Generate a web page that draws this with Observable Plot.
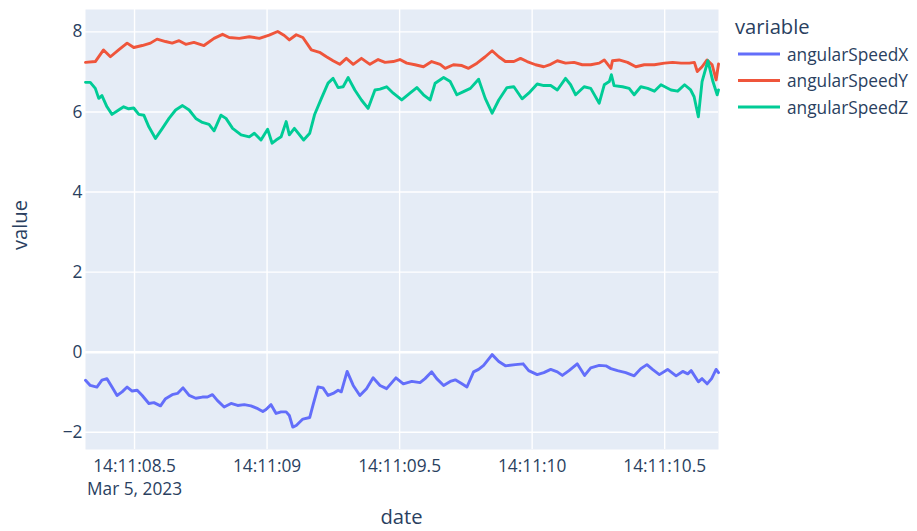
<!DOCTYPE html>
<html>
<head>
<meta charset="utf-8">
<script src="https://cdn.jsdelivr.net/npm/d3@7"></script>
<script src="https://cdn.jsdelivr.net/npm/@observablehq/plot@0.6"></script>
<style>
  html, body { margin: 0; padding: 0; background: white; }
  #chart { width: 917px; height: 531px; position: relative; }
</style>
</head>
<body>
<div id="chart"></div>
<script>
// ---- data (seconds after 14:11:00, Mar 5, 2023) ----
const seriesNames = ["angularSpeedX", "angularSpeedY", "angularSpeedZ"];
const seriesColors = ["#636efa", "#EF553B", "#00cc96"];

const timesX = [8.315,8.333,8.358,8.377,8.396,8.415,8.434,8.453,8.472,8.491,8.510,8.529,8.554,8.573,8.598,8.617,8.642,8.662,8.683,8.706,8.731,8.756,8.775,8.794,8.813,8.838,8.864,8.889,8.914,8.939,8.965,8.984,8.996,9.015,9.034,9.053,9.072,9.084,9.097,9.110,9.135,9.161,9.173,9.192,9.211,9.230,9.249,9.268,9.280,9.302,9.325,9.350,9.375,9.400,9.426,9.451,9.486,9.514,9.546,9.577,9.596,9.621,9.640,9.666,9.691,9.710,9.735,9.754,9.779,9.798,9.817,9.849,9.874,9.899,9.937,9.966,9.987,10.019,10.044,10.070,10.095,10.114,10.139,10.170,10.198,10.221,10.253,10.278,10.297,10.322,10.353,10.385,10.410,10.433,10.454,10.480,10.511,10.543,10.568,10.587,10.600,10.627,10.641,10.660,10.677,10.694,10.703];
const valuesX = [-0.70,-0.83,-0.87,-0.70,-0.66,-0.87,-1.08,-0.99,-0.87,-0.97,-0.95,-1.08,-1.28,-1.26,-1.34,-1.16,-1.06,-1.03,-0.89,-1.08,-1.15,-1.12,-1.12,-1.06,-1.21,-1.37,-1.28,-1.33,-1.31,-1.34,-1.41,-1.48,-1.43,-1.31,-1.53,-1.49,-1.49,-1.58,-1.87,-1.83,-1.67,-1.63,-1.33,-0.87,-0.89,-1.08,-1.03,-0.95,-0.99,-0.48,-0.83,-1.08,-0.91,-0.64,-0.83,-0.91,-0.64,-0.79,-0.73,-0.76,-0.66,-0.49,-0.66,-0.83,-0.73,-0.69,-0.79,-0.87,-0.49,-0.43,-0.33,-0.06,-0.23,-0.34,-0.31,-0.29,-0.46,-0.56,-0.51,-0.43,-0.49,-0.58,-0.46,-0.29,-0.58,-0.39,-0.33,-0.34,-0.41,-0.46,-0.51,-0.59,-0.41,-0.31,-0.43,-0.56,-0.43,-0.59,-0.48,-0.54,-0.46,-0.74,-0.66,-0.79,-0.66,-0.43,-0.51];

const timesY = [8.315,8.352,8.383,8.409,8.440,8.472,8.497,8.529,8.560,8.585,8.617,8.642,8.668,8.693,8.724,8.762,8.800,8.832,8.857,8.895,8.933,8.971,9.008,9.040,9.065,9.084,9.110,9.135,9.167,9.198,9.224,9.249,9.274,9.299,9.325,9.356,9.388,9.419,9.445,9.476,9.501,9.527,9.558,9.590,9.621,9.653,9.672,9.703,9.735,9.760,9.792,9.823,9.849,9.874,9.899,9.931,9.956,9.981,10.013,10.044,10.070,10.095,10.126,10.158,10.189,10.221,10.253,10.272,10.297,10.303,10.328,10.360,10.391,10.423,10.461,10.499,10.530,10.562,10.593,10.612,10.623,10.641,10.660,10.679,10.694,10.703];
const valuesY = [7.24,7.26,7.55,7.38,7.55,7.72,7.61,7.66,7.72,7.82,7.76,7.72,7.78,7.69,7.74,7.66,7.84,7.94,7.86,7.84,7.88,7.84,7.92,8.01,7.91,7.80,7.93,7.86,7.55,7.49,7.38,7.28,7.19,7.34,7.19,7.34,7.19,7.31,7.24,7.26,7.31,7.22,7.18,7.13,7.26,7.19,7.09,7.18,7.16,7.09,7.22,7.38,7.53,7.38,7.26,7.26,7.34,7.26,7.18,7.13,7.19,7.28,7.22,7.24,7.18,7.18,7.22,7.30,7.09,7.28,7.30,7.24,7.13,7.18,7.18,7.22,7.24,7.22,7.22,7.24,7.01,7.13,7.30,7.18,6.80,7.20];

const timesZ = [8.315,8.333,8.352,8.365,8.377,8.396,8.415,8.440,8.459,8.478,8.497,8.516,8.535,8.554,8.579,8.605,8.630,8.655,8.681,8.706,8.731,8.756,8.781,8.800,8.826,8.845,8.870,8.902,8.933,8.952,8.977,9.002,9.019,9.034,9.053,9.072,9.084,9.103,9.138,9.161,9.179,9.205,9.230,9.249,9.268,9.287,9.306,9.331,9.356,9.381,9.407,9.426,9.451,9.476,9.508,9.539,9.565,9.590,9.615,9.634,9.666,9.691,9.716,9.741,9.767,9.798,9.823,9.849,9.874,9.905,9.931,9.962,9.987,10.019,10.044,10.070,10.095,10.126,10.145,10.164,10.196,10.221,10.253,10.272,10.291,10.299,10.309,10.341,10.366,10.385,10.410,10.436,10.461,10.486,10.524,10.549,10.575,10.598,10.611,10.627,10.641,10.663,10.682,10.698,10.703];
const valuesZ = [6.74,6.74,6.59,6.34,6.41,6.13,5.94,6.05,6.13,6.08,6.10,5.94,5.92,5.63,5.34,5.59,5.84,6.05,6.16,6.05,5.84,5.74,5.69,5.53,5.92,5.84,5.59,5.43,5.38,5.47,5.30,5.57,5.22,5.30,5.38,5.76,5.43,5.59,5.30,5.47,5.93,6.34,6.72,6.84,6.61,6.63,6.86,6.55,6.30,6.09,6.55,6.57,6.63,6.47,6.30,6.47,6.61,6.43,6.30,6.72,6.86,6.76,6.43,6.51,6.59,6.82,6.34,5.97,6.30,6.61,6.63,6.33,6.47,6.70,6.66,6.66,6.55,6.84,6.68,6.43,6.63,6.59,6.22,6.68,6.76,6.93,6.66,6.63,6.59,6.43,6.63,6.59,6.52,6.68,6.55,6.52,6.68,6.55,6.38,5.88,6.76,7.28,6.76,6.43,6.55];

const yTicks = [-2, 0, 2, 4, 6, 8];
const xTickSeconds = [8.5, 9, 9.5, 10, 10.5];
const xTickLabels = ["14:11:08.5\nMar 5, 2023", "14:11:09", "14:11:09.5", "14:11:10", "14:11:10.5"];
const xTitle = "date";
const yTitle = "value";
const legendTitle = "variable";

// ---- build table ----
const base = Date.UTC(2023, 2, 5, 14, 11, 0);
const toDate = s => new Date(base + s * 1000);
const rows = [];
[[timesX, valuesX], [timesY, valuesY], [timesZ, valuesZ]].forEach(([ts, vs], k) => {
  ts.forEach((t, i) => rows.push({date: toDate(t), value: vs[i], variable: seriesNames[k]}));
});
const xTickDates = xTickSeconds.map(toDate);

const fontFamily = "'Open Sans', sans-serif";
const textColor = "#2a3f5f";
const W = 917, H = 531, mL = 85, mR = 199, mT = 9, mB = 82;

const plot = Plot.plot({
  width: W,
  height: H,
  marginLeft: mL,
  marginRight: mR,
  marginTop: mT,
  marginBottom: mB,
  style: {fontFamily, fontSize: "17.3px", color: textColor, background: "white", overflow: "visible"},
  x: {type: "utc", domain: d3.extent(rows, d => d.date)},
  y: {domain: [-2.43, 8.56]},
  color: {domain: seriesNames, range: seriesColors},
  marks: [
    Plot.frame({fill: "#E5ECF6", stroke: null}),
    Plot.gridY(yTicks, {stroke: "white", strokeOpacity: 1, strokeWidth: 1.4}),
    Plot.gridX(xTickDates, {stroke: "white", strokeOpacity: 1, strokeWidth: 1.4}),
    Plot.ruleY([0], {stroke: "white", strokeWidth: 2.6}),
    Plot.line(rows, {x: "date", y: "value", z: "variable", stroke: "variable", strokeWidth: 2.9, strokeLinejoin: "round"}),
    Plot.axisY(yTicks, {tickSize: 0, tickPadding: 3, label: null, fontSize: 17.3}),
    Plot.axisX(xTickDates, {tickSize: 0, tickPadding: 6, label: null, fontSize: 17.3, lineHeight: 1.33,
      tickFormat: (d, i) => xTickLabels[i]})
  ]
});

document.getElementById("chart").appendChild(plot);

// ---- axis titles and legend ----
const svg = d3.select(plot);
const extra = svg.append("g").attr("font-family", fontFamily).attr("fill", textColor);
extra.append("text")
  .attr("text-anchor", "middle")
  .attr("transform", `translate(20,${(mT + H - mB) / 2 - 4}) rotate(-90)`)
  .attr("dy", "0.35em")
  .attr("font-size", 20.2)
  .text(yTitle);
extra.append("text")
  .attr("text-anchor", "middle")
  .attr("x", (mL + W - mR) / 2)
  .attr("y", 524)
  .attr("font-size", 20.2)
  .text(xTitle);

const lg = extra.append("g").attr("text-anchor", "start");
lg.append("text").attr("x", 735).attr("y", 34).attr("font-size", 20.2).text(legendTitle);
seriesNames.forEach((name, i) => {
  const y = 54 + i * 26.5;
  lg.append("line").attr("x1", 738).attr("x2", 780).attr("y1", y).attr("y2", y)
    .attr("stroke", seriesColors[i]).attr("stroke-width", 2.9);
  lg.append("text").attr("x", 787).attr("y", y + 6.5).attr("font-size", 17.3).text(name);
});
</script>
</body>
</html>
